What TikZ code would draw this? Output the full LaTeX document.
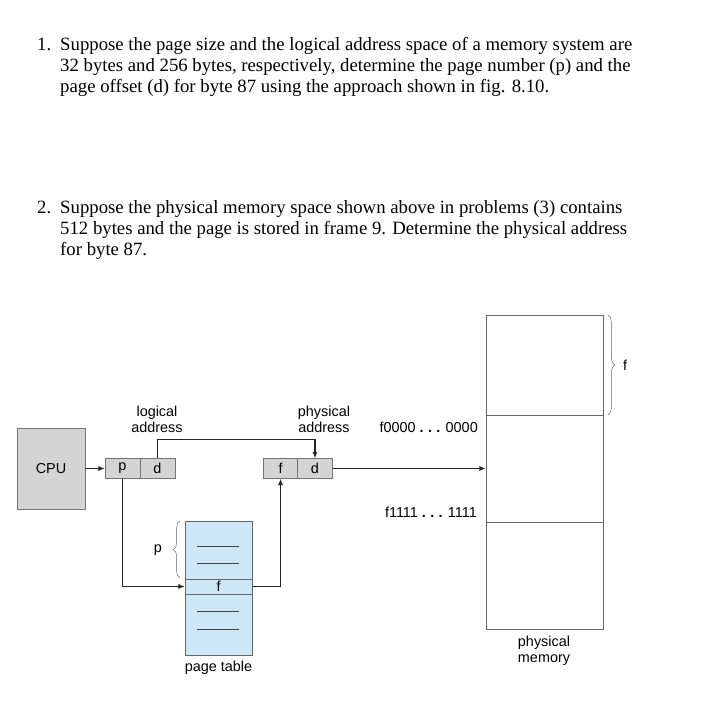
\documentclass[tikz,border=0pt]{standalone}
\usepackage{fontspec}
\setmainfont{Liberation Serif}
\setsansfont{Liberation Sans}
\usetikzlibrary{arrows.meta,decorations.pathreplacing}
\definecolor{tableblue}{RGB}{204,232,248}
\newcommand{\diafont}{\sffamily\fontsize{12.3}{13.6}\selectfont}
\newcommand{\qfont}{\fontsize{16}{17.8}\selectfont}
\newcommand{\spdots}{{\bfseries .\hspace{0.3em}.\hspace{0.3em}.}}

\begin{document}
\begin{tikzpicture}[x=0.03cm, y=-0.03cm,
	qline/.style={anchor=base west, inner sep=0pt, font=\qfont},
	cell/.style={draw=black!55, fill=black!17, minimum width=1.05cm, minimum height=0.6cm, inner sep=0pt, font=\diafont},
	memframe/.style={draw=black!60, minimum width=3.51cm, inner sep=0pt},
	lbl/.style={align=center, inner sep=0pt, font=\diafont},
	wire/.style={draw=black!85, line width=1pt},
	arr/.style={wire, -{Latex[length=5.5pt,width=4.5pt]}},
	brc/.style={draw=black!60, decorate, decoration={brace, amplitude=0.2cm}}]
		%%%%% START %%%%%
		
		\fill[white] (0,0) rectangle (703,700);
		\useasboundingbox (0,0) rectangle (703,700);
		
		% questions
		\node[qline] (n1) at (37,50) {1.};
		\node[qline] (q1a) at (60,50) {Suppose the page size and the logical address space of a memory system are};
		\node[qline] (q1b) at (60,71) {32 bytes and 256 bytes, respectively, determine the page number (p) and the};
		\node[qline] (q1c) at (60,92) {page offset (d) for byte 87 using the approach shown in fig. 8.10.};
		
		\node[qline] (n2) at (37,213) {2.};
		\node[qline] (q2a) at (60,213) {Suppose the physical memory space shown above in problems (3) contains};
		\node[qline] (q2b) at (60,234) {512 bytes and the page is stored in frame 9. Determine the physical address};
		\node[qline] (q2c) at (60,255) {for byte 87.};
		
		% cpu and addresses
		\node[draw=black!55, fill=black!17, minimum width=2.04cm, minimum height=2.43cm, font=\diafont] (cpu) at (51,468.5) {CPU};
		
		\node[cell] (lp) at (122.5,468.5) {p};
		\node[cell] (ld) at (157.5,468.5) {d};
		\node[cell] (pf) at (280.5,468.5) {f};
		\node[cell] (pd) at (315,468.5) {d};
		
		\node[lbl] (lgl) at (157,419) {logical\\address};
		\node[lbl] (phl) at (324,419) {physical\\address};
		
		% page table
		\node[draw=black!60, fill=tableblue, minimum width=2.01cm, minimum height=4.02cm] (ptab) at (218.5,588) {};
		\node[draw=black!60, minimum width=2.01cm, minimum height=0.45cm, inner sep=0pt, font=\diafont] (frow) at (218.5,586.5) {f};
		\foreach \y in {546,563,611,629}
			\draw[black!75, line width=0.8pt] (197,\y) -- (239,\y);
		\draw[brc] (180,578) -- (180,521);
		\node[lbl] (pp) at (158,550) {p};
		\node[lbl, anchor=north] (ptl) at (218.5,661) {page table};
		
		% physical memory
		\node[memframe, minimum height=3cm] (mem1) at (544.5,365) {};
		\node[memframe, minimum height=3.21cm] (mem2) at (544.5,468.5) {};
		\node[memframe, minimum height=3.21cm] (mem3) at (544.5,575.5) {};
		\draw[brc] (608,315) -- (608,415);
		\node[lbl] (ff) at (625,365) {f};
		\node[lbl, anchor=east] (lo) at (478,427) {f0000 \spdots{} 0000};
		\node[lbl, anchor=east] (hi) at (477,512) {f1111 \spdots{} 1111};
		\node[lbl] (pml) at (544,651) {physical\\memory};
		
		% connectors
		\draw[arr] (cpu.east) -- (lp.west);
		\draw[arr] (ld.north) -- ++(0,-19) -| (pd.north);
		\draw[arr] (lp.south) |- (frow.west);
		\draw[arr] (frow.east) -| (pf.south);
		\draw[arr] (pd.east) -- (pd.east -| mem2.west);
		
		%%%%% END %%%%%
	\end{tikzpicture}
\end{document}
